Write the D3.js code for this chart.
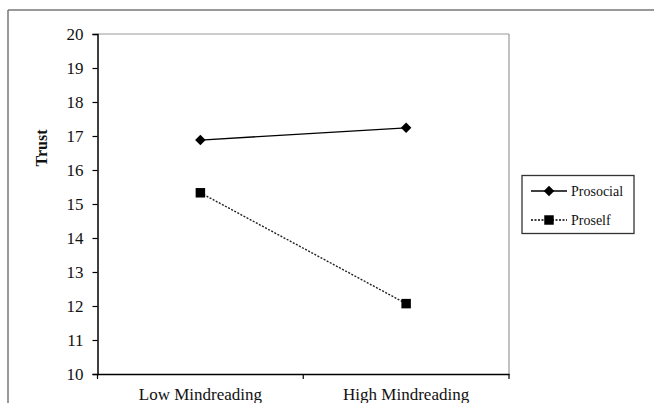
<!DOCTYPE html>
<html><head><meta charset="utf-8">
<script src="https://cdn.jsdelivr.net/npm/d3@7"></script>
<style>html,body{margin:0;padding:0;background:#fff;}svg{display:block;}</style>
</head><body>
<script>
const categories = ["Low Mindreading", "High Mindreading"];
const seriesNames = ["Prosocial", "Proself"];
const prosocial = [16.88, 17.24];
const proself = [15.33, 12.07];
const yTicks = [10, 11, 12, 13, 14, 15, 16, 17, 18, 19, 20];

const W = 654, H = 403;
const svg = d3.select("body").append("svg").attr("width", W).attr("height", H);
const font = "Liberation Serif, Times New Roman, serif";

// outer frame (top and left edges visible)
svg.append("line").attr("x1", 8).attr("x2", W).attr("y1", 10).attr("y2", 10).attr("stroke", "#777").attr("stroke-width", 1.5);
svg.append("line").attr("x1", 8).attr("x2", 8).attr("y1", 10).attr("y2", H).attr("stroke", "#777").attr("stroke-width", 1.5);

const L = 97.5, R = 509, T = 34, B = 374;
const x = d3.scaleBand().domain(categories).range([L, R]);
const y = d3.scaleLinear().domain([10, 20]).range([B, T]);

// plot frame top/right
svg.append("line").attr("x1", L).attr("x2", R).attr("y1", T).attr("y2", T).attr("stroke", "#999").attr("stroke-width", 1.2);
svg.append("line").attr("x1", R).attr("x2", R).attr("y1", T).attr("y2", B).attr("stroke", "#999").attr("stroke-width", 1.2);

// y axis
const ya = svg.append("g").attr("transform", `translate(${L},0)`)
  .call(d3.axisLeft(y).tickValues(yTicks).tickSize(5).tickPadding(9).tickFormat(d3.format("d")));
ya.attr("font-family", font).attr("font-size", 17);
ya.select(".domain").attr("stroke", "#000").attr("stroke-width", 1.5);
ya.selectAll(".tick line").attr("stroke", "#000").attr("stroke-width", 1.2);
ya.selectAll("text").attr("fill", "#111");

// x axis
const xa = svg.append("g").attr("transform", `translate(0,${B})`)
  .call(d3.axisBottom(x).tickSize(0).tickPadding(14).tickSizeOuter(0));
xa.attr("font-family", font).attr("font-size", 17);
xa.select(".domain").attr("stroke", "#000").attr("stroke-width", 1.5);
xa.selectAll(".tick line").remove();
xa.selectAll("text").attr("fill", "#111");
// category boundary ticks
const bounds = [L, x(categories[1]), R];
svg.selectAll(".bt").data(bounds).enter().append("line")
  .attr("x1", d => d).attr("x2", d => d).attr("y1", B).attr("y2", B + 5)
  .attr("stroke", "#000").attr("stroke-width", 1.2);

// y title
svg.append("text").attr("transform", `translate(47,148) rotate(-90)`)
  .attr("text-anchor", "middle").attr("font-family", font).attr("font-size", 16)
  .attr("font-weight", "bold").attr("fill", "#111").text("Trust");

const cx = c => x(c) + x.bandwidth() / 2;
const lineGen = d3.line().x((d, i) => cx(categories[i])).y(d => y(d));

svg.append("path").datum(prosocial).attr("d", lineGen).attr("fill", "none")
  .attr("stroke", "#000").attr("stroke-width", 1.4);
svg.append("path").datum(proself).attr("d", lineGen).attr("fill", "none")
  .attr("stroke", "#222").attr("stroke-width", 1.4).attr("stroke-dasharray", "2,1.5");

const diamond = d3.symbol().type(d3.symbolDiamond2).size(70);
const square = d3.symbol().type(d3.symbolSquare).size(90);
svg.selectAll(".dm").data(prosocial).enter().append("path")
  .attr("d", diamond).attr("transform", (d, i) => `translate(${cx(categories[i])},${y(d)})`).attr("fill", "#000");
svg.selectAll(".sq").data(proself).enter().append("path")
  .attr("d", square).attr("transform", (d, i) => `translate(${cx(categories[i])},${y(d)})`).attr("fill", "#000");

// legend
const lg = svg.append("g");
lg.append("rect").attr("x", 522).attr("y", 175.5).attr("width", 112).attr("height", 58)
  .attr("fill", "#fff").attr("stroke", "#333").attr("stroke-width", 1.3);
const rows = [191, 220];
seriesNames.forEach((name, i) => {
  const ly = rows[i];
  lg.append("line").attr("x1", 531).attr("x2", 567).attr("y1", ly).attr("y2", ly)
    .attr("stroke", "#000").attr("stroke-width", 1.4)
    .attr("stroke-dasharray", i === 1 ? "2,1.5" : null);
  lg.append("path").attr("d", i === 0 ? diamond : square).attr("transform", `translate(549,${ly})`).attr("fill", "#000");
  lg.append("text").attr("x", 571).attr("y", ly).attr("dy", "0.35em")
    .attr("font-family", font).attr("font-size", 14).attr("fill", "#111").text(name);
});
</script>
</body></html>
